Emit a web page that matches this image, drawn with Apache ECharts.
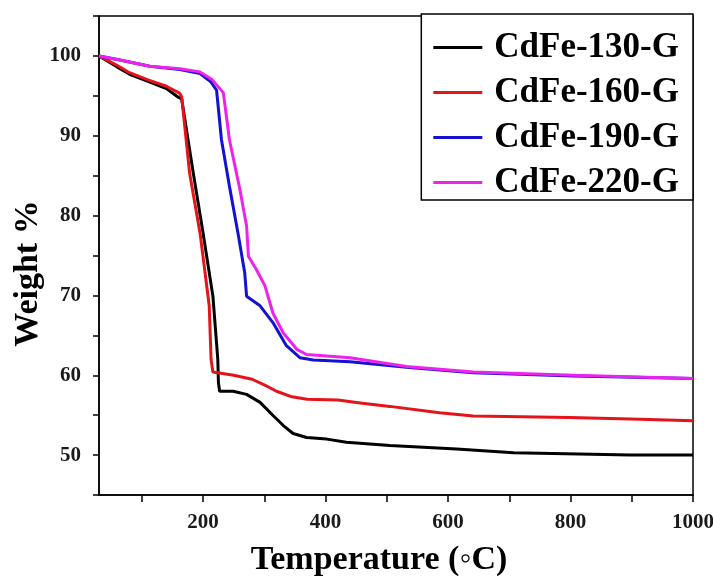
<!DOCTYPE html>
<html>
<head>
<meta charset="utf-8">
<script src="https://cdn.jsdelivr.net/npm/echarts@6/dist/echarts.min.js"></script>
<style>html,body{margin:0;padding:0;background:#fff}#c{width:713px;height:576px}</style>
</head>
<body>
<div id="c"></div>
<script>
// ---- data (Temperature °C, Weight %) ----
var seriesNames = ['CdFe-130-G', 'CdFe-160-G', 'CdFe-190-G', 'CdFe-220-G'];
var cdfe130 = [[30,100],[60,98.6],[80,97.7],[110,96.8],[140,95.9],[160,94.8],[165,94.6],[184,85.3],[200,77.8],[216,69.9],[224,62],[225,59.1],[227,58.0],[249,58.0],[271,57.6],[293,56.6],[315,54.9],[331,53.7],[347,52.7],[369,52.2],[402,52.0],[434,51.6],[505,51.2],[614,50.75],[707,50.3],[898,50.0],[1000,50.0]];
var cdfe160 = [[30,100],[60,98.8],[80,97.9],[110,97.0],[140,96.2],[162,95.3],[165,94.9],[178,85.3],[195,77.8],[210,68.7],[213,62],[216,60.4],[250,60.0],[280,59.5],[300,58.8],[320,58.0],[345,57.3],[370,57.0],[420,56.9],[460,56.5],[505,56.1],[586,55.3],[641,54.9],[799,54.7],[914,54.5],[1000,54.3]];
var cdfe190 = [[30,100],[64,99.5],[113,98.7],[162,98.3],[195,97.8],[212,96.8],[222,95.7],[230,89.5],[244,83.25],[257,77.8],[268,72.8],[271,69.9],[293,68.7],[314,66.6],[336,63.7],[358,62.2],[380,61.9],[440,61.7],[532,61.0],[641,60.3],[805,59.9],[1000,59.6]];
var cdfe220 = [[30,100],[64,99.5],[113,98.7],[162,98.4],[195,98.0],[215,97.0],[233,95.4],[243,89.5],[260,83.3],[271,78.7],[274,74.9],[287,73.25],[301,71.2],[314,67.8],[331,65.3],[353,63.25],[369,62.6],[440,62.2],[532,61.1],[641,60.4],[805,60.0],[1000,59.6]];
var xTickValues = [100,200,300,400,500,600,700,800,900,1000];
var xLabelValues = [200,400,600,800,1000];

var colors = ['#000000', '#e4141a', '#1212d0', '#ee22ee'];
var chart = echarts.init(document.getElementById('c'));
var data = [cdfe130, cdfe160, cdfe190, cdfe220];
var serif = '"Liberation Serif", "Times New Roman", serif';
chart.setOption({
  animation: false,
  backgroundColor: '#fff',
  grid: { left: 99, right: 20, top: 16, bottom: 81, outerBoundsMode: 'none', containLabel: false,
    show: true, borderColor: '#000', borderWidth: 1.5, backgroundColor: 'transparent' },
  legend: {
    data: seriesNames,
    orient: 'vertical',
    right: 20, top: 14,
    backgroundColor: '#fff',
    borderColor: '#000', borderWidth: 1.5, borderRadius: 0,
    padding: [16, 14, 0, 12],
    itemGap: 10,
    icon: 'rect', itemWidth: 49, itemHeight: 3,
    textStyle: { fontFamily: serif, fontWeight: 'bold', fontSize: 35, color: '#000', lineHeight: 22, padding: [0,0,0,7] }
  },
  xAxis: {
    type: 'value', min: 30, max: 1000,
    name: 'Temperature (◦C)', nameLocation: 'middle', nameGap: 48, nameMoveOverlap: false,
    nameTextStyle: { fontFamily: serif, fontWeight: 'bold', fontSize: 34, color: '#000', padding: [0, 34, 0, 0] },
    axisLine: { show: true, lineStyle: { color: '#000', width: 1.5 } },
    axisTick: { show: true, inside: false, length: 7, customValues: xTickValues, lineStyle: { color: '#000', width: 1.5 } },
    axisLabel: { customValues: xLabelValues, margin: 17, fontFamily: serif, fontWeight: 'bold', fontSize: 21, color: '#1a1a1a',
      formatter: function (v) { return String(v); } },
    splitLine: { show: false }
  },
  yAxis: {
    type: 'value', min: 45, max: 105, interval: 5,
    name: 'Weight %', nameLocation: 'middle', nameGap: 54, nameMoveOverlap: false,
    nameTextStyle: { fontFamily: serif, fontWeight: 'bold', fontSize: 34, color: '#000', padding: [0, 36, 0, 0] },
    axisLine: { show: true, lineStyle: { color: '#000', width: 1.5 } },
    axisTick: { show: true, inside: false, length: 6, lineStyle: { color: '#000', width: 1.5 } },
    axisLabel: { margin: 18, fontFamily: serif, fontWeight: 'bold', fontSize: 21, color: '#1a1a1a',
      formatter: function (v) { return (v % 10 === 0) ? String(v) : ''; } },
    splitLine: { show: false }
  },
  series: seriesNames.map(function (n, i) {
    return { name: n, type: 'line', data: data[i], showSymbol: false, symbol: 'none',
      lineStyle: { color: colors[i], width: 3 }, itemStyle: { color: colors[i] } };
  })
});
</script>
</body>
</html>
